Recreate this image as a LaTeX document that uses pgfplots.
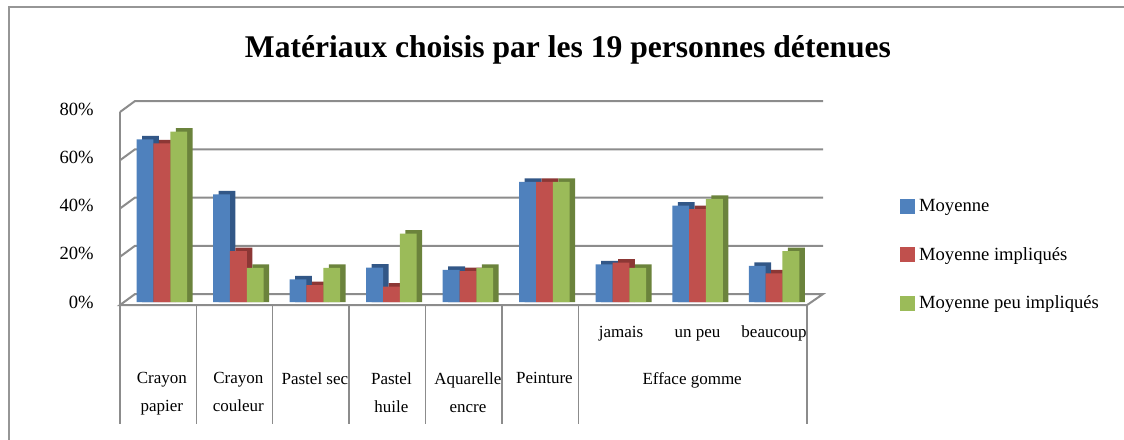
\documentclass[border=0pt]{standalone}
\usepackage{pgfplots}
\usepackage{pgfplotstable}
\pgfplotsset{compat=1.18}
\usepackage{fontspec}
\setmainfont{Liberation Serif}
\definecolor{cblue}{RGB}{79,129,189}
\definecolor{cred}{RGB}{192,80,77}
\definecolor{cgreen}{RGB}{155,187,89}
\definecolor{dblue}{RGB}{50,87,135}
\definecolor{dred}{RGB}{140,55,53}
\definecolor{dgreen}{RGB}{107,131,60}
\definecolor{gridg}{RGB}{140,140,140}
\definecolor{frameg}{RGB}{150,150,150}
\pgfplotstableread{
x blue red green bs rs gs
0 67.4 65.8 70.6 68.85 67.25 72.05
1 44.6 21.1 14.1 46.05 22.55 15.55
2 9.4 7.0 14.1 10.85 8.45 15.55
3 14.2 6.4 28.3 15.65 7.85 29.75
4 13.3 12.8 14.1 14.75 14.25 15.55
5 49.8 49.8 49.8 51.25 51.25 51.25
6 15.6 16.3 14.1 17.05 17.75 15.55
7 39.9 38.5 42.7 41.35 39.95 44.15
8 15.0 11.9 21.1 16.45 13.35 22.55
}\datatable
\begin{document}
\begin{tikzpicture}
\useasboundingbox (0,0) rectangle (562pt,219.5pt);
\draw[frameg, line width=1.2pt] (4.5pt,-20pt) -- (4.5pt,216pt) -- (580pt,216pt);
\node[font=\bfseries\fontsize{15.8}{19}\selectfont, anchor=base] at (284pt,190.8pt) {Matériaux choisis par les 19 personnes détenues};
\begin{axis}[
  scale only axis,
  width=344.35pt, height=96.5pt,
  at={(61.8pt,68.5pt)}, anchor=south west,
  xmin=-0.5, xmax=8.5, ymin=0, ymax=80,
  clip=false,
  axis line style={draw=none},
  major tick length=0pt,
  ytick={0,20,40,60,80},
  yticklabels={0\%,20\%,40\%,60\%,80\%},
  yticklabel style={anchor=east, inner sep=0pt, xshift=-14.8pt, font=\fontsize{9.3}{11}\selectfont},
  xtick={0,1,2,3,4,5},
  xticklabels={{Crayon\\papier},{Crayon\\couleur},{Pastel sec},{Pastel\\huile},{Aquarelle\\encre},{Peinture}},
  xticklabel style={anchor=north, inner sep=0pt, yshift=-35pt, align=center, font=\fontsize{8.5}{14}\selectfont},
  extra x ticks={6,7,8},
  extra x tick labels={jamais,un peu,beaucoup},
  extra x tick style={xticklabel style={anchor=base, yshift=17.5pt}},
  ybar=0pt,
  bar width=0.22,
  legend style={at={(1.127,0.555)}, anchor=north west, draw=none, fill=none,
    font=\fontsize{9.3}{11}\selectfont, row sep=12.3pt, inner sep=0pt},
  legend cell align=left,
  legend image code/.code={\fill[#1] (0pt,-3.5pt) rectangle (7.5pt,4pt);},
]
% floor
\filldraw[fill=white, draw=gridg, line width=1pt] (axis cs:-0.547,-1.25) -- (axis cs:8.433,-1.25) -- (axis cs:8.64,3.3) -- (axis cs:-0.351,3.3) -- cycle;
% gridlines
\draw[gridg, line width=1pt] (axis cs:-0.547,18.75) -- (axis cs:-0.351,23.3) -- (axis cs:8.64,23.3);
\draw[gridg, line width=1pt] (axis cs:-0.547,38.75) -- (axis cs:-0.351,43.3) -- (axis cs:8.64,43.3);
\draw[gridg, line width=1pt] (axis cs:-0.547,58.75) -- (axis cs:-0.351,63.3) -- (axis cs:8.64,63.3);
\draw[gridg, line width=1pt] (axis cs:-0.547,78.75) -- (axis cs:-0.351,83.3) -- (axis cs:8.64,83.3);
\draw[gridg, line width=1pt] (axis cs:-0.547,-1.25) -- (axis cs:-0.547,78.75);
% table lines
\draw[gridg, line width=0.7pt] (axis cs:-0.547,-1.25) -- (axis cs:-0.547,-50.6);
\draw[gridg, line width=0.7pt] (axis cs:0.451,-1.25) -- (axis cs:0.451,-50.6);
\draw[gridg, line width=0.7pt] (axis cs:1.449,-1.25) -- (axis cs:1.449,-50.6);
\draw[gridg, line width=0.7pt] (axis cs:2.447,-1.25) -- (axis cs:2.447,-50.6);
\draw[gridg, line width=0.7pt] (axis cs:3.445,-1.25) -- (axis cs:3.445,-50.6);
\draw[gridg, line width=0.7pt] (axis cs:4.443,-1.25) -- (axis cs:4.443,-50.6);
\draw[gridg, line width=0.7pt] (axis cs:5.441,-1.25) -- (axis cs:5.441,-50.6);
\draw[gridg, line width=0.7pt] (axis cs:8.433,-1.25) -- (axis cs:8.433,-50.6);
% blue
\addplot[fill=dblue, draw=none, bar shift=-0.148, forget plot] table[x=x, y=bs] {\datatable};
\addplot[fill=cblue, draw=none, bar shift=-0.22] table[x=x, y=blue] {\datatable};
% red
\addplot[fill=dred, draw=none, bar shift=0.072, forget plot] table[x=x, y=rs] {\datatable};
\addplot[fill=cred, draw=none, bar shift=0] table[x=x, y=red] {\datatable};
% green
\addplot[fill=dgreen, draw=none, bar shift=0.292, forget plot] table[x=x, y=gs] {\datatable};
\addplot[fill=cgreen, draw=none, bar shift=0.22] table[x=x, y=green] {\datatable};
\legend{Moyenne, Moyenne impliqués, Moyenne peu impliqués}
\node[anchor=north, inner sep=0pt, yshift=-35pt, font=\fontsize{8.5}{14}\selectfont] at (axis cs:6.93,0) {Efface gomme};
\end{axis}
\end{tikzpicture}
\end{document}
